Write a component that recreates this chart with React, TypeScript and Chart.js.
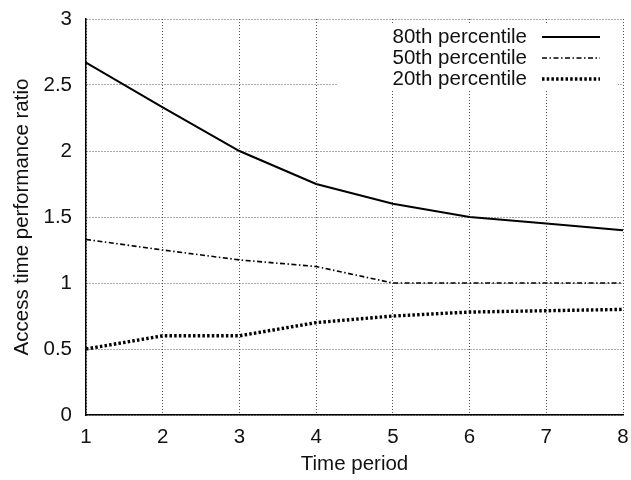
import React, { useEffect, useRef } from "react";
import { Chart, registerables } from "chart.js";

Chart.register(...registerables);

const periods = [1, 2, 3, 4, 5, 6, 7, 8];
const p80 = [2.67, 2.33, 2.0, 1.75, 1.6, 1.5, 1.45, 1.4];
const p50 = [1.33, 1.25, 1.175, 1.125, 1.0, 1.0, 1.0, 1.0];
const p20 = [0.5, 0.6, 0.6, 0.7, 0.75, 0.78, 0.79, 0.8];
const seriesNames = ["80th percentile", "50th percentile", "20th percentile"];
const yTicks = [0, 0.5, 1, 1.5, 2, 2.5, 3];

const FONT = "'Liberation Sans', Arial, sans-serif";
const FS = 20.5;

const styles = [
  { width: 2, dash: [] as number[] },
  { width: 1.6, dash: [5, 2.5, 1.5, 2.5] },
  { width: 3.4, dash: [2.5, 2.2] },
];

const legendPlugin = {
  id: "customLegend",
  afterDatasetsDraw(chart: any) {
    const ctx = chart.ctx;
    ctx.save();
    ctx.fillStyle = "#fff";
    ctx.fillRect(337, 25, 281, 64);
    ctx.font = FS + "px " + FONT;
    ctx.textAlign = "right";
    ctx.textBaseline = "middle";
    const rows = [37, 58, 79];
    chart.data.datasets.forEach((ds: any, i: number) => {
      ctx.fillStyle = "#111";
      ctx.fillText(ds.label, 527, rows[i]);
      ctx.beginPath();
      ctx.strokeStyle = "#000";
      ctx.lineWidth = styles[i].width;
      ctx.setLineDash(styles[i].dash);
      ctx.moveTo(542, rows[i]);
      ctx.lineTo(600, rows[i]);
      ctx.stroke();
    });
    ctx.restore();
  },
};

const zeroPad = (scale: any) => {
  scale.paddingTop = 0;
  scale.paddingBottom = 0;
  scale.paddingLeft = 0;
  scale.paddingRight = 0;
};

export default function App() {
  const ref = useRef<HTMLCanvasElement>(null);
  useEffect(() => {
    const series = [p80, p50, p20];
    const chart = new Chart(ref.current!, {
      type: "line",
      data: {
        datasets: series.map((vals, i) => ({
          label: seriesNames[i],
          data: periods.map((p, j) => ({ x: p, y: vals[j] })),
          borderColor: "#000",
          borderWidth: styles[i].width,
          borderDash: styles[i].dash,
          pointRadius: 0,
          fill: false,
          tension: 0,
        })),
      },
      options: {
        animation: false,
        responsive: false,
        maintainAspectRatio: false,
        layout: { padding: { left: 0, right: 8, top: 19, bottom: 0 }, autoPadding: false },
        plugins: { legend: { display: false }, tooltip: { enabled: false } },
        scales: {
          x: {
            type: "linear",
            min: 1,
            max: 8,
            afterFit(scale: any) {
              scale.height = 65;
              zeroPad(scale);
            },
            afterBuildTicks(scale: any) {
              scale.ticks = periods.map((v) => ({ value: v }));
            },
            ticks: {
              color: "#111",
              font: { family: FONT, size: FS },
              padding: 10,
              maxRotation: 0,
              callback: (v: any) => String(v),
            },
            grid: { color: "#555", lineWidth: 1, drawTicks: false },
            border: { color: "#000", width: 1.5, dash: [1, 2] },
            title: {
              display: true,
              text: "Time period",
              color: "#111",
              font: { family: FONT, size: FS },
              padding: { top: 0, bottom: 3 },
            },
          },
          y: {
            type: "linear",
            min: 0,
            max: 3,
            afterFit(scale: any) {
              scale.width = 86;
              zeroPad(scale);
            },
            afterBuildTicks(scale: any) {
              scale.ticks = yTicks.map((v) => ({ value: v }));
            },
            ticks: {
              color: "#111",
              font: { family: FONT, size: FS },
              padding: 14,
              callback: (v: any) => String(v),
            },
            grid: { color: "#555", lineWidth: 1, drawTicks: false },
            border: { color: "#000", width: 1.5, dash: [1, 2] },
            title: {
              display: true,
              text: "Access time performance ratio",
              color: "#111",
              font: { family: FONT, size: FS },
              padding: { top: 10, bottom: 0 },
            },
          },
        },
      },
      plugins: [legendPlugin],
    });
    return () => chart.destroy();
  }, []);
  return (
    <div style={{ position: "fixed", left: 0, top: 0, width: 631, height: 480, background: "#fff" }}>
      <canvas ref={ref} width={631} height={480} />
    </div>
  );
}
